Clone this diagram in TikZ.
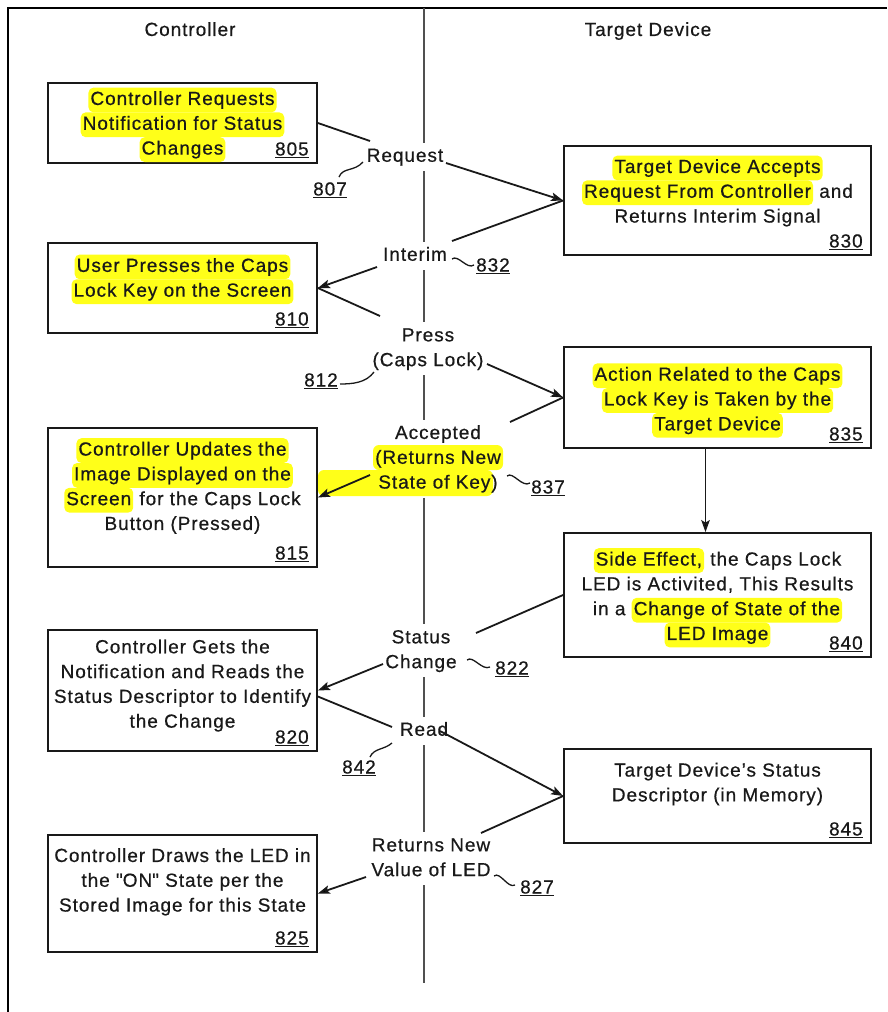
\documentclass[tikz,border=0pt]{standalone}
\usepackage{fontspec}
\setmainfont{Liberation Sans}[LetterSpace=5,FakeBold=0.6]
\usetikzlibrary{arrows.meta,calc}
\definecolor{hly}{RGB}{255,255,25}
\definecolor{ink}{RGB}{25,25,25}
\definecolor{midline}{RGB}{80,80,80}
\newcommand\tf{\fontsize{19}{24.8}\selectfont}
\newcommand\hl[1]{\tikz[baseline=(hlb.base)]\node[fill=hly,rounded corners=5pt,inner xsep=2pt,inner ysep=0pt,outer sep=0pt](hlb){\strut#1};}
\newcommand\st{\strut}
\tikzset{
  bx/.style={draw=ink,line width=1.8pt,inner sep=0pt},
  bxL/.style={bx,minimum width=269pt},
  bxR/.style={bx,minimum width=307pt},
  txt/.style={font=\tf,text=ink,align=center,inner sep=0pt},
  lbl/.style={font=\tf,text=ink,align=center,inner xsep=0pt,inner ysep=1.6pt},
  refn/.style={font=\tf,text=ink,inner sep=0pt},
  ln/.style={draw=ink,line width=1.8pt},
  ar/.style={ln,-{Stealth[length=12pt,width=8.5pt,inset=2.5pt]}},
  cl/.style={draw=midline,line width=2.2pt},
  sq/.style={draw=ink,line width=1.3pt},
  frame/.style={draw=black,line width=2.5pt}
}
\begin{document}
\begin{tikzpicture}[x=1pt,y=-1pt]
\useasboundingbox (0,0) rectangle (887,1012);
\draw[frame] (8,1012) -- (8,8) -- (887,8);

% titles
\node[txt] (tc) at (190,31) {\st Controller};
\node[txt] (tt) at (648,31) {\st Target Device};

% boxes
\node[bxL,minimum height=80pt]  (b805) at (182.5,123) {};
\node[bxL,minimum height=90pt]  (b810) at (182.5,288) {};
\node[bxL,minimum height=139pt] (b815) at (182.5,497.5) {};
\node[bxL,minimum height=121pt] (b820) at (182.5,690.5) {};
\node[bxL,minimum height=117pt] (b825) at (182.5,893.5) {};
\node[bxR,minimum height=109pt] (b830) at (717.5,200.5) {};
\node[bxR,minimum height=101pt] (b835) at (717.5,397.5) {};
\node[bxR,minimum height=124pt] (b840) at (717.5,595) {};
\node[bxR,minimum height=94pt]  (b845) at (717.5,796) {};

% box texts
\node[txt] (t805) at (182.5,124.8) {\hl{Controller Requests}\\\hl{Notification for Status}\\\hl{Changes}};
\node[txt] (t810) at (182.5,279.3) {\hl{User Presses the Caps}\\\hl{Lock Key on the Screen}};
\node[txt] (t815) at (182.5,487.8) {\hl{Controller Updates the}\\\hl{Image Displayed on the}\\\hl{Screen} for the Caps Lock\\\st Button (Pressed)};
\node[txt] (t820) at (182.5,685.5) {\st Controller Gets the\\\st Notification and Reads the\\\st Status Descriptor to Identify\\\st the Change};
\node[txt] (t825) at (182.5,881.8) {\st Controller Draws the LED in\\\st the {\addfontfeature{Mapping=}"}ON{\addfontfeature{Mapping=}"} State per the\\\st Stored Image for this State};
\node[txt] (t830) at (717.5,192.8) {\hl{Target Device Accepts}\\\hl{Request From Controller} and\\\st Returns Interim Signal};
\node[txt] (t835) at (717.5,400.5) {\hl{Action Related to the Caps}\\\hl{Lock Key is Taken by the}\\\hl{Target Device}};
\node[txt] (t840) at (717.5,597.8) {\hl{Side Effect,} the Caps Lock\\\st LED is Activited, This Results\\\st in a \hl{Change of State of the}\\\hl{LED Image}};
\node[txt] (t845) at (717.5,784) {\st Target Device's Status\\\st Descriptor (in Memory)};

% box reference numbers
\node[refn,anchor=south east] (n805) at ([xshift=-9pt,yshift=6pt]b805.south east) {\underline{805}};
\node[refn,anchor=south east] (n810) at ([xshift=-9pt,yshift=6pt]b810.south east) {\underline{810}};
\node[refn,anchor=south east] (n815) at ([xshift=-9pt,yshift=6pt]b815.south east) {\underline{815}};
\node[refn,anchor=south east] (n820) at ([xshift=-9pt,yshift=6pt]b820.south east) {\underline{820}};
\node[refn,anchor=south east] (n825) at ([xshift=-9pt,yshift=6pt]b825.south east) {\underline{825}};
\node[refn,anchor=south east] (n830) at ([xshift=-9pt,yshift=6pt]b830.south east) {\underline{830}};
\node[refn,anchor=south east] (n835) at ([xshift=-9pt,yshift=6pt]b835.south east) {\underline{835}};
\node[refn,anchor=south east] (n840) at ([xshift=-9pt,yshift=6pt]b840.south east) {\underline{840}};
\node[refn,anchor=south east] (n845) at ([xshift=-9pt,yshift=6pt]b845.south east) {\underline{845}};

% yellow highlight of the "Accepted" message
\fill[hly,rounded corners=6pt] (373,445) rectangle (503,470);
\fill[hly,rounded corners=6pt] (318,470) rectangle (493,496);

% message labels on the centre line
\node[lbl] (req) at (405,156.8) {\st Request};
\node[lbl] (int) at (415,255.8) {\st Interim};
\node[lbl] (prs) at (428,348.8) {\st Press\\\st (Caps Lock)};
\node[lbl] (acc) at (438,458.8) {\st Accepted\\\st (Returns New\\\st State of Key)};
\node[lbl] (stc) at (421,650.8) {\st Status\\\st Change};
\node[lbl] (rd)  at (424,730.8) {\st Read};
\node[lbl] (rnv) at (431,858.8) {\st Returns New\\\st Value of LED};

% centre line, broken by the labels
\coordinate (ctop) at (424,8);
\coordinate (cbot) at (424,983);
\draw[cl] (ctop) -- (ctop |- req.north);
\draw[cl] (ctop |- req.south) -- (ctop |- int.north);
\draw[cl] (ctop |- int.south) -- (ctop |- prs.north);
\draw[cl] (ctop |- prs.south) -- (ctop |- acc.north);
\draw[cl] (ctop |- acc.south) -- (ctop |- stc.north);
\draw[cl] (ctop |- stc.south) -- (ctop |- rd.north);
\draw[cl] (ctop |- rd.south) -- (ctop |- rnv.north);
\draw[cl] (ctop |- rnv.south) -- (cbot);

% connector ends beside the labels
\coordinate (c1a) at (370,141);
\coordinate (c1b) at (446,163);
\coordinate (c2a) at (452,241);
\coordinate (c2b) at (377,267);
\coordinate (c3a) at (380,316);
\coordinate (c3b) at (487,364);
\coordinate (c4a) at (510,422);
\coordinate (c4b) at (370,475);
\coordinate (c6a) at (476,633);
\coordinate (c6b) at (383,664);
\coordinate (c7a) at (392,727);
\coordinate (c7b) at (440,731);
\coordinate (c8a) at (481,833);
\coordinate (c8b) at (366,877);

% connectors
\draw[ln] (b805.east) -- (c1a);
\draw[ar] (c1b) -- (b830.west);
\draw[ln] (b830.west) -- (c2a);
\draw[ar] (c2b) -- (b810.east);
\draw[ln] (b810.east) -- (c3a);
\draw[ar] (c3b) -- (b835.west);
\draw[ln] (b835.west) -- (c4a);
\draw[ar] (c4b) -- (b815.east);
\draw[ar] ([xshift=-12pt]b835.south) -- ([xshift=-12pt]b840.north);
\draw[ln] (b840.west) -- (c6a);
\draw[ar] (c6b) -- (b820.east);
\draw[ln] ([yshift=-6pt]b820.east) -- (c7a);
\draw[ar] (c7b) -- (b845.west);
\draw[ln] (b845.west) -- (c8a);
\draw[ar] (c8b) -- (b825.east);

% message reference numbers
\node[refn] (n807) at (330,190) {\underline{807}};
\node[refn] (n832) at (493,266) {\underline{832}};
\node[refn] (n812) at (321,381) {\underline{812}};
\node[refn] (n837) at (548,488) {\underline{837}};
\node[refn] (n822) at (512,669) {\underline{822}};
\node[refn] (n842) at (359,768) {\underline{842}};
\node[refn] (n827) at (537,888) {\underline{827}};

% leader squiggles
\draw[sq] (339,177) .. controls (343,167) and (354,172) .. (363,162);
\draw[sq] (452,259) .. controls (458,254) and (467,270) .. (474,265);
\draw[sq] (340,384) .. controls (352,384) and (366,383) .. (374,372);
\draw[sq] (507,476) .. controls (513,471) and (522,488) .. (530,483);
\draw[sq] (467,660) .. controls (473,655) and (482,671) .. (490,667);
\draw[sq] (370,757) .. controls (374,748) and (384,750) .. (392,743);
\draw[sq] (494,876) .. controls (500,871) and (508,889) .. (515,885);
\end{tikzpicture}
\end{document}
